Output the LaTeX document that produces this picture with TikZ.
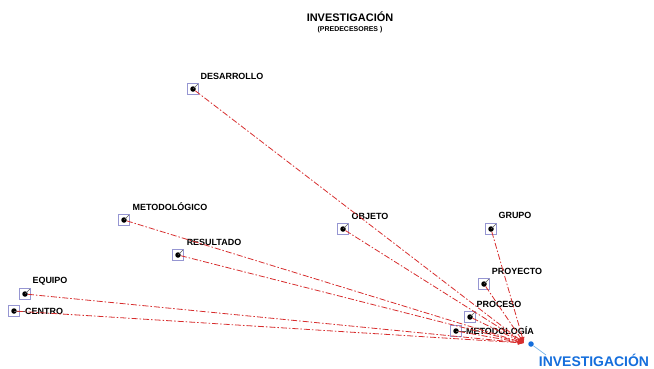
\documentclass[tikz,border=0pt]{standalone}
\usepackage{fontspec}
\setmainfont{Liberation Sans}
\usetikzlibrary{arrows.meta}
\definecolor{lav}{RGB}{150,150,210}
\definecolor{depred}{RGB}{215,45,45}
\definecolor{mainblue}{RGB}{20,110,220}
\definecolor{linkblue}{RGB}{120,180,230}
\tikzset{
  sq/.style={draw=lav, line width=0.6bp, minimum size=11bp, inner sep=0pt},
  pt/.style={circle, fill=black, minimum size=5.5bp, inner sep=0pt},
  lbl/.style={font=\fontsize{9}{10}\selectfont\bfseries, inner sep=0pt},
  tick/.style={draw=gray!70!black, line width=0.6bp},
  dep/.style={draw=depred, line width=0.8bp, dash pattern=on 6bp off 2bp on 1.5bp off 2bp, -{Latex[length=6bp,width=4.5bp]}},
}
\begin{document}
\begin{tikzpicture}[x=1bp,y=-1bp]
\useasboundingbox (0,0) rectangle (654,368);
% title
\node[font=\fontsize{11}{12}\selectfont\bfseries] (title) at (350,17) {INVESTIGACIÓN};
\node[font=\fontsize{7}{8}\selectfont\bfseries] (sub) at (350,30) {(PREDECESORES )};
% target
\coordinate (tgt) at (524,343);
\node[circle, fill=mainblue, minimum size=5.5bp, inner sep=0pt] (inv) at (531,344) {};
\node[font=\fontsize{14}{15}\selectfont\bfseries, text=mainblue, inner sep=0pt, anchor=base] (invl) at (594,366) {INVESTIGACIÓN};
\draw[linkblue, line width=0.7bp] (inv) -- (546,355);
% predecessor nodes
\foreach \n/\x/\y/\lx/\ly/\t in {
  des/193/89/232/76/DESARROLLO,
  met/124/220/170/207/METODOLÓGICO,
  res/178/255/214/242/RESULTADO,
  obj/343/229/370/216/OBJETO,
  gru/491/229/515/215/GRUPO,
  pro/484/284/517/271/PROYECTO,
  prc/470/317/499/304/PROCESO,
  equ/25/294/50/281/EQUIPO}{
  \node[sq] (\n s) at (\x,\y) {};
  \node[pt] (\n) at (\x,\y) {};
  \draw[tick] (\n.center) -- ++(5,-5);
  \node[lbl] (\n l) at (\lx,\ly) {\t};
}
\node[sq] (mgs) at (456,331) {};
\node[pt] (mg) at (456,331) {};
\node[lbl, anchor=west] (mgl) at (466,331) {METODOLOGÍA};
\draw[tick] (mg.center) -- (mgl.west);
\node[sq] (cens) at (14,311) {};
\node[pt] (cen) at (14,311) {};
\node[lbl, anchor=west] (cenl) at (25,311) {CENTRO};
\draw[tick] (cen.center) -- (cenl.west);
% dependencies
\foreach \n in {des,met,res,obj,gru,pro,prc,equ,mg,cen}{
  \draw[dep] (\n) -- (tgt);
}
\end{tikzpicture}
\end{document}
